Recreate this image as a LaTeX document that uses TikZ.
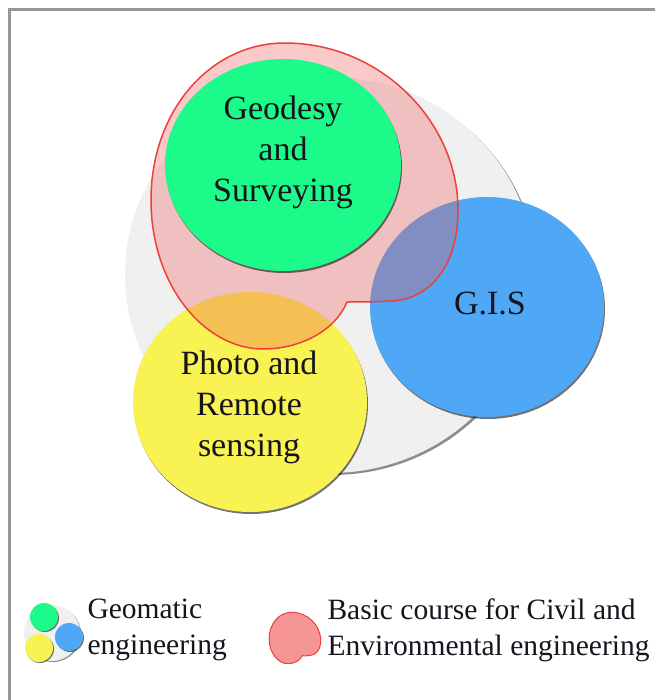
\documentclass[tikz,border=0pt]{standalone}
\usepackage{fontspec}
\setmainfont{Liberation Serif}
\begin{document}
\begin{tikzpicture}[x=1pt,y=-1pt]
\definecolor{discgray}{RGB}{240,240,240}
\definecolor{framegray}{RGB}{150,150,150}
\definecolor{geogreen}{RGB}{28,250,138}
\definecolor{gisblue}{RGB}{78,168,245}
\definecolor{photoyellow}{RGB}{248,242,82}
\definecolor{courseline}{RGB}{236,64,58}
\definecolor{coursefill}{RGB}{240,88,88}
\definecolor{legendpink}{RGB}{245,150,148}
\definecolor{inkcol}{RGB}{22,20,28}
\tikzset{
  rim/.style={fill=black, opacity=0.55},
  topic/.style={font=\fontsize{34}{41}\selectfont, text=inkcol, align=center},
  legendtext/.style={font=\fontsize{29.5}{36}\selectfont, text=inkcol, align=left, anchor=west},
  course blob/.style={insert path={
    (42,106) .. controls (30,135) and (-5,153) .. (-42,153)
    .. controls (-100,153) and (-154,90) .. (-154,4)
    .. controls (-154,-85) and (-95,-153) .. (-20,-153)
    .. controls (75,-153) and (153,-75) .. (153,14)
    .. controls (153,70) and (125,104) .. (85,105)
    .. controls (70,106) and (55,106) .. cycle}},
}
\useasboundingbox (0,0) rectangle (655,700);
\fill[white] (0,0) rectangle (655,700);
% frame along the top and left edges
\draw[framegray, line width=3] (9.5,700) -- (9.5,9.5) -- (655,9.5);

% large grey disc behind the topics
\fill[rim, opacity=0.45] (332,277) ellipse [x radius=205, y radius=198];
\fill[discgray] (330,275) ellipse [x radius=205, y radius=198];

% G.I.S disc
\fill[rim] (488,309) ellipse [x radius=117, y radius=110];
\fill[gisblue] (487,307) ellipse [x radius=117, y radius=110];

% photogrammetry disc
\fill[rim] (251,404) ellipse [x radius=117, y radius=110];
\fill[photoyellow] (250,402) ellipse [x radius=117, y radius=110];

% civil / environmental course outline
\begin{scope}[shift={(305,196)}]
  \path[fill=coursefill, fill opacity=0.32, draw=courseline, line width=1.5, course blob];
\end{scope}

% geodesy disc
\fill[rim] (284,167) ellipse [x radius=118, y radius=106];
\fill[geogreen] (283,165) ellipse [x radius=118, y radius=106];

% topic labels
\node[topic] (geo) at (283,152) {Geodesy\\and\\Surveying};
\node[topic] (gis) at (490,303) {G.I.S};
\node[topic] (photo) at (249,407) {Photo and\\Remote\\sensing};

% legend: geomatic engineering icon
\fill[rim, opacity=0.45] (53,634) circle [radius=28];
\fill[discgray] (52,633) circle [radius=28];
\fill[rim] (45,618) circle [radius=14];
\fill[geogreen] (44,617) circle [radius=14];
\fill[rim] (70,638) circle [radius=14];
\fill[gisblue] (69,637) circle [radius=14];
\fill[rim] (40,649) circle [radius=14];
\fill[photoyellow] (39,648) circle [radius=14];
\node[legendtext] (geomatic) at (84,630) {Geomatic\\engineering};

% legend: course outline icon
\begin{scope}[shift={(295,638)}, scale=0.168]
  \path[fill=legendpink, draw=courseline, line width=1, course blob];
\end{scope}
\node[legendtext] (course) at (324,630) {Basic course for Civil and\\Environmental engineering};
\end{tikzpicture}
\end{document}
